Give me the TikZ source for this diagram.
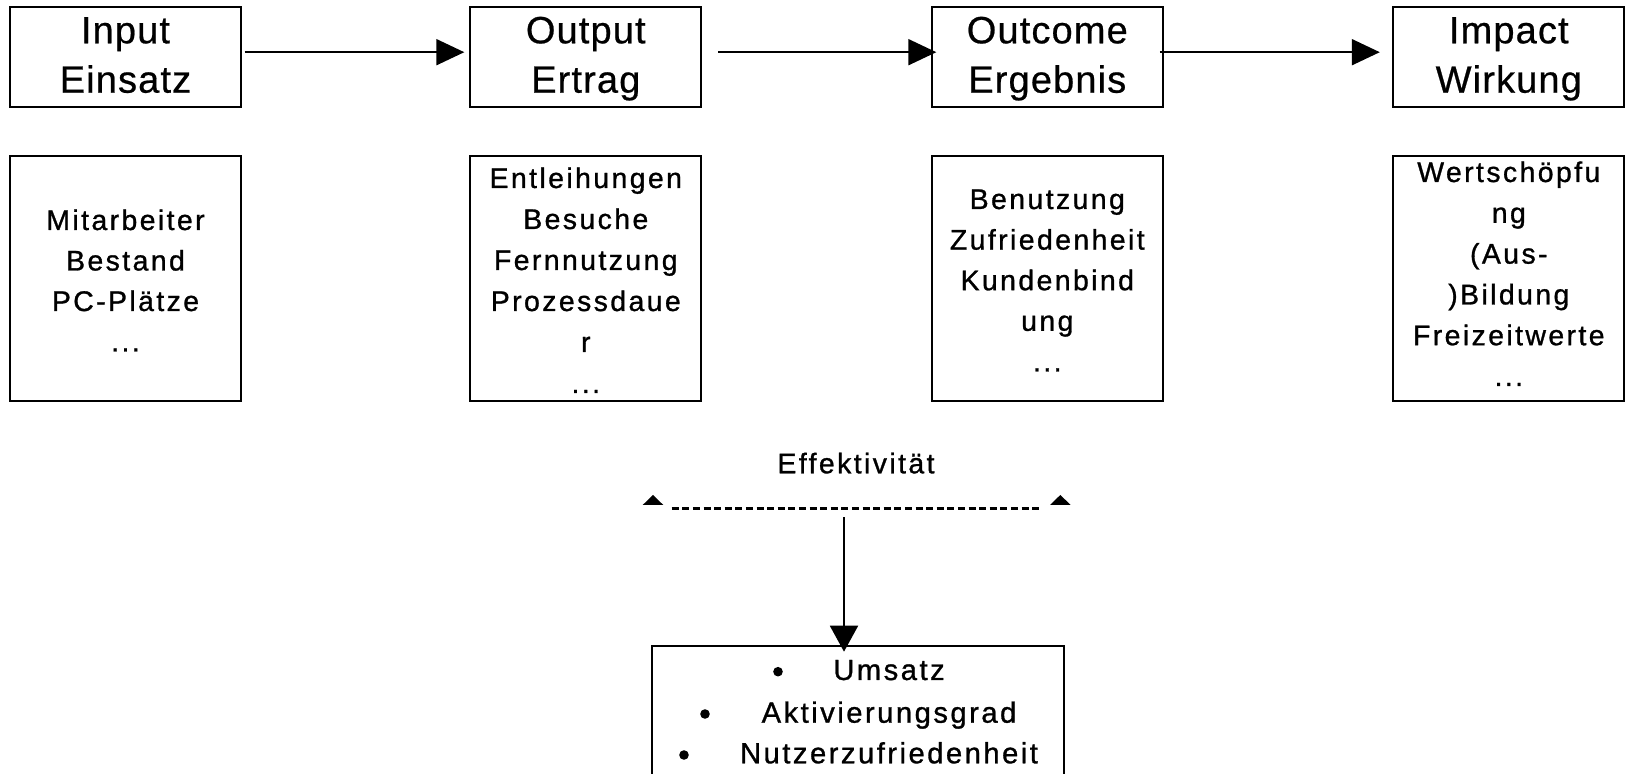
\documentclass[tikz,border=0pt]{standalone}
\usepackage{fontspec}
\setmainfont{Liberation Sans}
\newfontfamily\topfont[LetterSpace=3,FakeBold=0.6]{Liberation Sans}
\newfontfamily\boxfont[LetterSpace=8.5,FakeBold=1]{Liberation Sans}
\newcommand\mydots{...}
\usetikzlibrary{arrows.meta,calc}
\begin{document}
\begin{tikzpicture}[x=0.5pt,y=-0.5pt,
  box/.style={draw=black, line width=1pt, minimum width=115.5pt, inner sep=0pt},
  topbox/.style={box, minimum height=49.85pt},
  lowbox/.style={box, minimum height=122.35pt},
  toptxt/.style={font=\topfont\fontsize{19}{23}\selectfont, anchor=base, inner sep=0pt},
  lowtxt/.style={font=\boxfont\fontsize{14.2}{17}\selectfont, anchor=base, inner sep=0pt},
  listtxt/.style={font=\boxfont\fontsize{14.6}{17}\selectfont, anchor=base, inner sep=0pt},
  flow/.style={line width=1pt, -{Triangle[length=14pt,width=13pt]}},
  down/.style={line width=1pt, -{Triangle[length=13pt,width=14pt]}},
]
\clip (0,0) rectangle (1629,774);
\fill[white] (0,0) rectangle (1629,774);

% top boxes
\node[topbox] (inA) at (125.5,57.2) {};
\node[topbox] (outA) at (585.8,57.2) {};
\node[topbox] (ocA) at (1047.3,57.2) {};
\node[topbox] (imA) at (1508.8,57.2) {};

\node[toptxt] (inA1) at (125.5,43.3) {Input};
\node[toptxt] (inA2) at (125.5,92.7) {Einsatz};
\node[toptxt] (outA1) at (585.8,43.3) {Output};
\node[toptxt] (outA2) at (585.8,92.7) {Ertrag};
\node[toptxt] (ocA1) at (1047.3,43.3) {Outcome};
\node[toptxt] (ocA2) at (1047.3,92.7) {Ergebnis};
\node[toptxt] (imA1) at (1508.8,43.3) {Impact};
\node[toptxt] (imA2) at (1508.8,92.7) {Wirkung};

% arrows between top boxes
\draw[flow, shorten <=1.25pt, shorten >=2.5pt] ($(inA.east)+(0,-5)$) -- ($(outA.west)+(0,-5)$);
\draw[flow, shorten <=8pt, shorten >=-2.75pt] ($(outA.east)+(0,-5)$) -- ($(ocA.west)+(0,-5)$);
\draw[flow, shorten <=-2pt, shorten >=6.25pt] ($(ocA.east)+(0,-5)$) -- ($(imA.west)+(0,-5)$);

% lower boxes
\node[lowbox] (inB) at (125.5,278.4) {};
\node[lowbox] (outB) at (585.8,278.4) {};
\node[lowbox] (ocB) at (1047.3,278.4) {};
\node[lowbox] (imB) at (1508.8,278.4) {};

\foreach \t [count=\i from 0] in {{Mitarbeiter},{Bestand},{PC-Plätze},{\mydots}}
  \node[lowtxt] (inB\i) at (125.5,230+40.5*\i) {\t};
\foreach \t [count=\i from 0] in {{Entleihungen},{Besuche},{Fernnutzung},{Prozessdaue},{r},{\mydots}}
  \node[lowtxt] (outB\i) at (585.8,188+41*\i) {\t};
\foreach \t [count=\i from 0] in {{Benutzung},{Zufriedenheit},{Kundenbind},{ung},{\mydots}}
  \node[lowtxt] (ocB\i) at (1047.3,209+40.6*\i) {\t};
\foreach \t [count=\i from 0] in {{Wertschöpfu},{ng},{(Aus-},{)Bildung},{Freizeitwerte},{\mydots}}
  \node[lowtxt] (imB\i) at (1508.8,182+40.8*\i) {\t};

% Effektivitaet
\node[lowtxt] (eff) at (856,473.3) {Effektivität};
\coordinate (dl) at (671.7,508.3);
\coordinate (dr) at (1041.7,508.3);
\draw[line width=1.75pt, dash pattern=on 3.5pt off 1.8pt] (dl) -- (dr);
\fill (642.7,505) -- (653,495) -- (663.3,505) -- cycle;
\fill (1050,505) -- (1060.3,495) -- (1070.7,505) -- cycle;

% bottom box
\node[box, minimum width=206pt, minimum height=77pt] (bot) at (858.3,723) {};
\coordinate (vs) at (844,517.3);
\draw[down, shorten >=-3.35pt] (vs) -- (vs |- bot.north);

\node[listtxt] (l1) at (889,680) {Umsatz};
\node[listtxt] (l2) at (889,722.7) {Aktivierungsgrad};
\node[listtxt] (l3) at (889,763.3) {Nutzerzufriedenheit};
\fill (778,671.7) circle (2.4pt);
\fill (705,714) circle (2.4pt);
\fill (684,755) circle (2.4pt);
\end{tikzpicture}
\end{document}
